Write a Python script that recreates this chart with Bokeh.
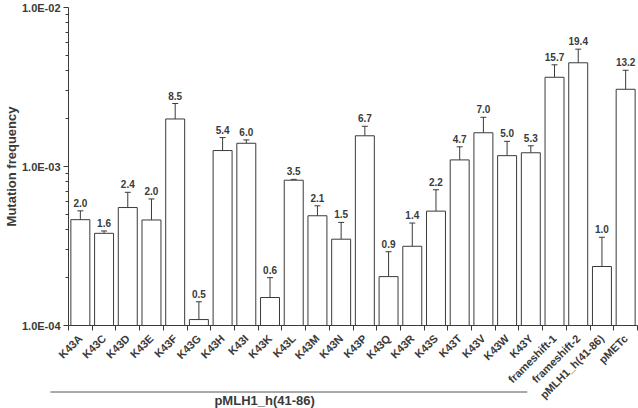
from bokeh.plotting import figure
from bokeh.models import (Range1d, FixedTicker, CustomJSTickFormatter, Whisker, TeeHead,
                          ColumnDataSource)
from bokeh.core.properties import value
from bokeh.embed import file_html
from bokeh.resources import INLINE

categories = ["K43A", "K43C", "K43D", "K43E", "K43F", "K43G", "K43H", "K43I", "K43K", "K43L",
              "K43M", "K43N", "K43P", "K43Q", "K43R", "K43S", "K43T", "K43V", "K43W", "K43Y",
              "frameshift-1", "frameshift-2", "pMLH1_h(41-86)", "pMETc"]
frequency = [4.63e-4, 3.80e-4, 5.52e-4, 4.61e-4, 1.99e-3, 1.09e-4, 1.26e-3, 1.40e-3, 1.50e-4, 8.2e-4,
             4.90e-4, 3.49e-4, 1.56e-3, 2.03e-4, 3.15e-4, 5.24e-4, 1.10e-3, 1.63e-3, 1.17e-3, 1.22e-3,
             3.64e-3, 4.49e-3, 2.35e-4, 3.06e-3]
error_top = [5.26e-4, 3.93e-4, 6.88e-4, 6.25e-4, 2.49e-3, 1.41e-4, 1.52e-3, 1.47e-3, 2.0e-4, 8.3e-4,
             5.66e-4, 4.45e-4, 1.79e-3, 2.91e-4, 4.41e-4, 7.14e-4, 1.33e-3, 2.04e-3, 1.44e-3, 1.35e-3,
             4.36e-3, 5.47e-3, 3.59e-4, 4.03e-3]
fold_labels = ["2.0", "1.6", "2.4", "2.0", "8.5", "0.5", "5.4", "6.0", "0.6", "3.5",
               "2.1", "1.5", "6.7", "0.9", "1.4", "2.2", "4.7", "7.0", "5.0", "5.3",
               "15.7", "19.4", "1.0", "13.2"]
group_label = "pMLH1_h(41-86)"
group_first, group_last = "K43A", "K43Y"
y_title = "Mutation frequency"

n = len(categories)
centers = [i + 0.5 for i in range(n)]
src = ColumnDataSource(dict(x=centers, value=frequency, err=error_top, label=fold_labels))

FONT = "Liberation Sans"
DARK = "#3a3a3a"
W, H = 638, 408
LEFT, RIGHT = 67, 1

p = figure(width=W, height=H, x_range=Range1d(0, n), y_range=Range1d(1e-4, 1e-2),
           y_axis_type="log", output_backend="svg", toolbar_location=None,
           min_border_left=LEFT, min_border_right=RIGHT, min_border_top=7, min_border_bottom=81)
p.styles = {"margin-left": "0px", "margin-top": "0px"}
p.grid.visible = False
p.outline_line_color = None
p.background_fill_color = "white"

# y axis
minors = [m * 10.0 ** e for e in (-4, -3) for m in range(2, 10)]
p.yaxis.ticker = FixedTicker(ticks=[1e-4, 1e-3, 1e-2], minor_ticks=minors)
p.yaxis.formatter = CustomJSTickFormatter(
    code="return tick.toExponential(1).toUpperCase().replace(/E-(\\d)$/, 'E-0$1');")
p.yaxis.major_tick_out = 5
p.yaxis.major_tick_in = 0
p.yaxis.minor_tick_out = 3
p.yaxis.minor_tick_in = 0
p.yaxis.axis_line_color = DARK
p.yaxis.major_tick_line_color = DARK
p.yaxis.minor_tick_line_color = DARK
p.yaxis.major_label_standoff = 3
p.yaxis.major_label_text_font = FONT
p.yaxis.major_label_text_font_style = "bold"
p.yaxis.major_label_text_font_size = "11px"
p.yaxis.major_label_text_color = DARK
p.yaxis.axis_label = y_title
p.yaxis.axis_label_text_font = FONT
p.yaxis.axis_label_text_font_style = "bold"
p.yaxis.axis_label_text_font_size = "13px"
p.yaxis.axis_label_text_color = DARK
p.yaxis.axis_label_standoff = 0

# x axis: labels at category centres, ticks at category boundaries
p.xaxis.ticker = FixedTicker(ticks=centers, minor_ticks=list(range(n + 1)))
p.xaxis.formatter = CustomJSTickFormatter(args=dict(labels=categories),
                                          code="return labels[Math.floor(tick)];")
p.xaxis.major_tick_out = 0
p.xaxis.major_tick_in = 0
p.xaxis.minor_tick_out = 5
p.xaxis.minor_tick_in = 0
p.xaxis.axis_line_color = DARK
p.xaxis.minor_tick_line_color = DARK
p.xaxis.major_label_orientation = 0.785
p.xaxis.major_label_standoff = 6
p.xaxis.major_label_text_font = FONT
p.xaxis.major_label_text_font_style = "bold"
p.xaxis.major_label_text_font_size = "11px"
p.xaxis.major_label_text_color = DARK

# bars
p.vbar(x="x", top="value", bottom=1e-4, width=0.8, source=src,
       fill_color="white", line_color=DARK, line_width=1)

# error bars (upper only)
p.add_layout(Whisker(source=src, base="x", lower="value", upper="err", dimension="height",
                     lower_head=None, upper_head=TeeHead(size=6, line_color=DARK, line_width=1),
                     line_color=DARK, line_width=1))

# value labels
p.text(x="x", y="err", text="label", source=src, text_font=value(FONT),
       text_font_style="bold", text_font_size="10px", text_align="center",
       text_baseline="bottom", y_offset=-4, text_color=DARK)

# transparent strip laid over the bottom of the chart: group bracket + group label
STRIP = 20
unit = (W - LEFT - RIGHT) / n
p2 = figure(width=W, height=STRIP, output_backend="svg", toolbar_location=None,
            x_range=Range1d(-LEFT / unit, n + RIGHT / unit), y_range=Range1d(0, STRIP),
            min_border=0)
p2.styles = {"margin-top": f"-{STRIP}px"}
p2.axis.visible = False
p2.grid.visible = False
p2.outline_line_color = None
p2.background_fill_alpha = 0
p2.border_fill_alpha = 0
i0 = categories.index(group_first)
i1 = categories.index(group_last)
p2.segment(x0=[i0 - 0.72], x1=[i1 + 0.36], y0=[16.5], y1=[16.5], line_color="#555555", line_width=1)
p2.text(x=[(i0 + i1 + 1) / 2 - 1.7], y=[8], text=[group_label], text_font=value(FONT),
        text_font_style="bold", text_font_size="13px", text_align="center",
        text_baseline="middle", text_color=DARK)

open("out.html", "w").write(file_html([p, p2], INLINE))
